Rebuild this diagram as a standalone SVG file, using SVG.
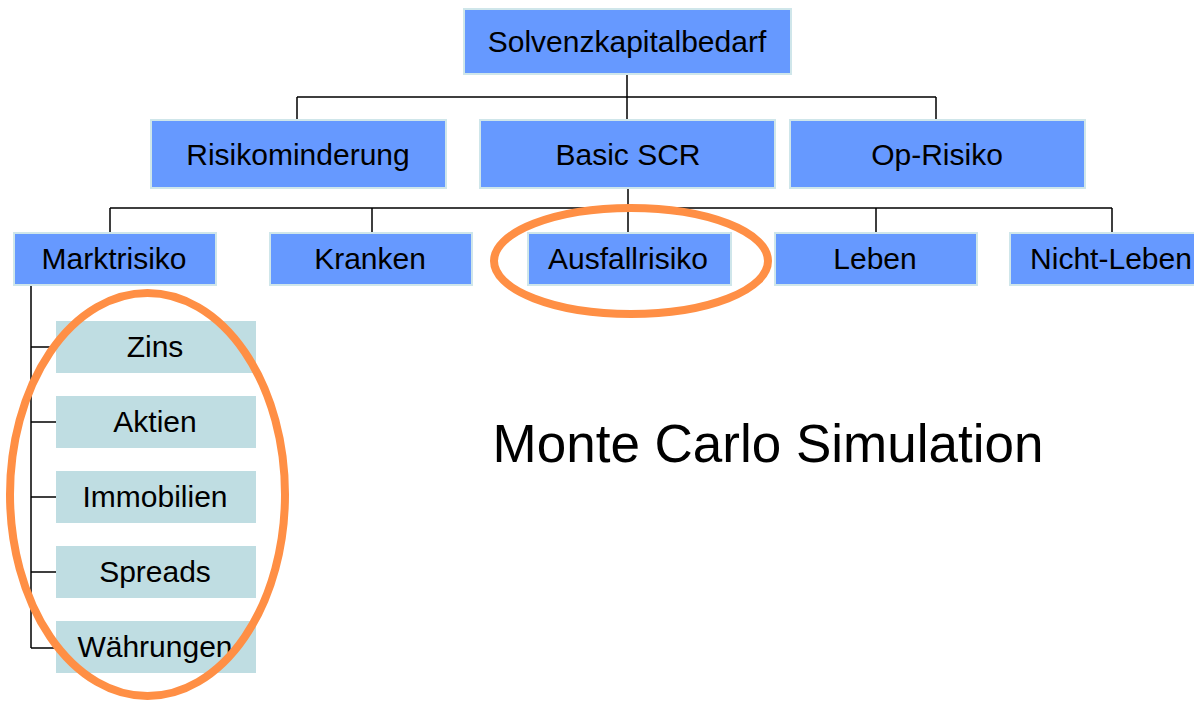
<svg xmlns="http://www.w3.org/2000/svg" width="1194" height="703" viewBox="0 0 1194 703">
<style>
.b{fill:#6699ff;stroke:#cfe6ea;stroke-width:2}
.s{fill:#bfdde2;stroke:none}
.t{font-family:"Liberation Sans",Arial,sans-serif;font-size:30px;fill:#000;text-anchor:middle}
.c{stroke:#000;stroke-width:1.5;fill:none}
.o{fill:none;stroke:#ff8f45;stroke-width:8}
</style>
<rect width="1194" height="703" fill="#fff"/>
<g id="connectors">
<path class="c" d="M627 74V120M297 97H936M297 97V120M936 97V120"/>
<path class="c" d="M628 188V233M110 208H1112M110 208V233M372 208V233M876 208V233M1112 208V233"/>
<path class="c" d="M31 285V648M31 347H56M31 422H56M31 497H56M31 572H56M31 648H56"/>
</g>
<g id="n-solvenz"><rect class="b" x="464" y="9" width="327" height="65"/><text class="t" x="627" y="52">Solvenzkapitalbedarf</text></g>
<g id="n-risikominderung"><rect class="b" x="151" y="120" width="295" height="68"/><text class="t" x="298" y="165">Risikominderung</text></g>
<g id="n-basicscr"><rect class="b" x="480" y="120" width="295" height="68"/><text class="t" x="628" y="165">Basic SCR</text></g>
<g id="n-oprisiko"><rect class="b" x="790" y="120" width="295" height="68"/><text class="t" x="937" y="165">Op-Risiko</text></g>
<g id="n-markt"><rect class="b" x="14" y="233" width="202" height="52"/><text class="t" x="114" y="269">Marktrisiko</text></g>
<g id="n-kranken"><rect class="b" x="270" y="233" width="202" height="52"/><text class="t" x="370" y="269">Kranken</text></g>
<g id="n-ausfall"><rect class="b" x="528" y="233" width="203" height="52"/><text class="t" x="628" y="269">Ausfallrisiko</text></g>
<g id="n-leben"><rect class="b" x="775" y="233" width="202" height="52"/><text class="t" x="875" y="269">Leben</text></g>
<g id="n-nichtleben"><rect class="b" x="1010" y="233" width="203" height="52"/><text class="t" x="1111" y="269">Nicht-Leben</text></g>
<g id="n-zins"><rect class="s" x="56" y="321" width="200" height="52"/><text class="t" x="155" y="357">Zins</text></g>
<g id="n-aktien"><rect class="s" x="56" y="396" width="200" height="52"/><text class="t" x="155" y="432">Aktien</text></g>
<g id="n-immobilien"><rect class="s" x="56" y="471" width="200" height="52"/><text class="t" x="155" y="507">Immobilien</text></g>
<g id="n-spreads"><rect class="s" x="56" y="546" width="200" height="52"/><text class="t" x="155" y="582">Spreads</text></g>
<g id="n-waehrungen"><rect class="s" x="56" y="621" width="200" height="52"/><text class="t" x="155" y="657">Währungen</text></g>
<ellipse class="o" cx="147.5" cy="494.5" rx="137.5" ry="201.5"/>
<ellipse class="o" cx="631" cy="261" rx="137" ry="53"/>
<text x="768" y="462" font-family="Liberation Sans,Arial,sans-serif" font-size="53" text-anchor="middle" fill="#000">Monte Carlo Simulation</text>
</svg>
